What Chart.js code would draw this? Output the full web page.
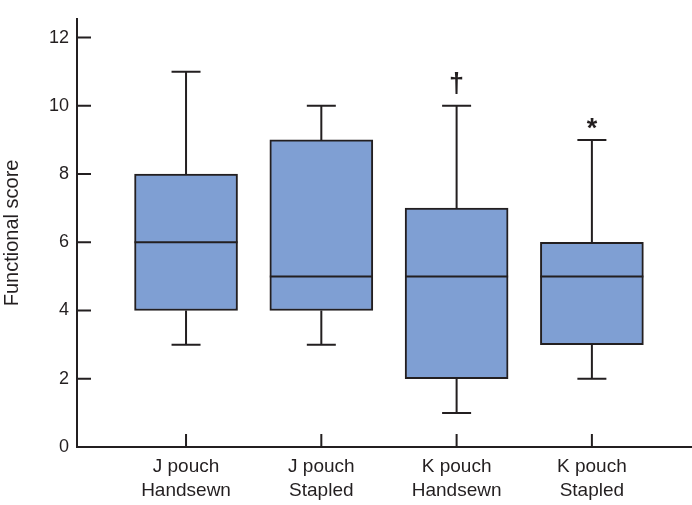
<!DOCTYPE html>
<html>
<head>
<meta charset="utf-8">
<script src="https://cdn.jsdelivr.net/npm/chart.js@4/dist/chart.umd.min.js"></script>
<style>
  html, body { margin: 0; padding: 0; background: #fff; }
  #wrap { width: 692px; height: 505px; }
</style>
</head>
<body>
<div id="wrap"><canvas id="box-chart"></canvas></div>
<script>
// box plot values
const categories = [['J pouch', 'Handsewn'], ['J pouch', 'Stapled'], ['K pouch', 'Handsewn'], ['K pouch', 'Stapled']];
const positions = [1, 2, 3, 4];
const mins    = [3, 3, 1, 2];
const q1s     = [4, 4, 2, 3];
const medians = [6, 5, 5, 5];
const q3s     = [8, 9, 7, 6];
const maxs    = [11, 10, 10, 9];
const markers = ['', '', '\u2020', '*'];
const yTicks  = [0, 2, 4, 6, 8, 10, 12];

const ink = '#231f20';
const fontFamily = '"Liberation Sans", Arial, sans-serif';

// whiskers, caps, medians, significance marks and inward tick marks
const boxPlugin = {
    id: 'boxExtras',
    afterDatasetsDraw: (chart) => {
        const ctx = chart.ctx;
        const x = chart.scales.x;
        const y = chart.scales.y;
        const meta = chart.getDatasetMeta(0);
        ctx.save();
        ctx.strokeStyle = ink;
        ctx.lineWidth = 2;
        positions.forEach((p, i) => {
            let cx = x.getPixelForValue(p);
            let w = meta.data[i].width;
            let cap = 29;
            ctx.beginPath();
            ctx.moveTo(cx, y.getPixelForValue(q3s[i]));
            ctx.lineTo(cx, y.getPixelForValue(maxs[i]));
            ctx.moveTo(cx, y.getPixelForValue(q1s[i]));
            ctx.lineTo(cx, y.getPixelForValue(mins[i]));
            ctx.moveTo(cx - cap / 2, y.getPixelForValue(maxs[i]));
            ctx.lineTo(cx + cap / 2, y.getPixelForValue(maxs[i]));
            ctx.moveTo(cx - cap / 2, y.getPixelForValue(mins[i]));
            ctx.lineTo(cx + cap / 2, y.getPixelForValue(mins[i]));
            ctx.moveTo(cx - w / 2, y.getPixelForValue(medians[i]));
            ctx.lineTo(cx + w / 2, y.getPixelForValue(medians[i]));
            ctx.stroke();
            if (markers[i]) {
                ctx.fillStyle = ink;
                ctx.font = 'bold 27px ' + fontFamily;
                ctx.textAlign = 'center';
                ctx.textBaseline = 'alphabetic';
                let m = ctx.measureText(markers[i]);
                let bottom = y.getPixelForValue(maxs[i]) - 11;
                ctx.fillText(markers[i], cx, bottom - m.actualBoundingBoxDescent);
            }
        });
        // inward tick marks
        ctx.beginPath();
        yTicks.forEach(v => {
            if (v === 0) return;
            let py = y.getPixelForValue(v);
            ctx.moveTo(x.left, py);
            ctx.lineTo(x.left + 14, py);
        });
        positions.forEach(p => {
            let px = x.getPixelForValue(p);
            ctx.moveTo(px, y.bottom);
            ctx.lineTo(px, y.bottom - 13);
        });
        ctx.stroke();
        ctx.restore();
    }
};

const initBoxChart = (canvas) => {
    return new Chart(canvas, {
        type: 'bar',
        data: {
            datasets: [{
                data: positions.map((p, i) => ({ x: p, y: [q1s[i], q3s[i]] })),
                backgroundColor: '#7f9fd3',
                borderColor: ink,
                borderWidth: 2,
                borderSkipped: false,
                barThickness: 103
            }]
        },
        options: {
            responsive: true,
            maintainAspectRatio: false,
            animation: false,
            layout: { padding: { top: 13, right: 0, left: 0, bottom: 0 } },
            plugins: {
                legend: { display: false },
                tooltip: { enabled: false }
            },
            scales: {
                x: {
                    type: 'linear',
                    offset: false,
                    min: 0.194,
                    max: 4.74,
                    grid: { display: false, drawTicks: false, offset: false },
                    border: { display: true, color: ink, width: 2 },
                    afterBuildTicks: (scale) => { scale.ticks = positions.map(v => ({ value: v })); },
                    afterFit: (scale) => { scale.height = 58; },
                    ticks: {
                        autoSkip: false,
                        maxRotation: 0,
                        padding: 8,
                        color: ink,
                        font: { family: fontFamily, size: 19, lineHeight: 1.25 },
                        callback: (v) => categories[positions.indexOf(v)] || ''
                    }
                },
                y: {
                    min: 0,
                    max: 12.55,
                    grid: { display: false, drawTicks: false },
                    border: { display: true, color: ink, width: 2 },
                    afterBuildTicks: (scale) => { scale.ticks = yTicks.map(v => ({ value: v })); },
                    afterFit: (scale) => { scale.width = 77; },
                    ticks: {
                        padding: 8,
                        color: ink,
                        font: { family: fontFamily, size: 18 }
                    },
                    title: {
                        display: true,
                        text: 'Functional score',
                        color: ink,
                        padding: { top: 0, bottom: 0 },
                        font: { family: fontFamily, size: 20 }
                    }
                }
            }
        },
        plugins: [boxPlugin]
    });
}

document.addEventListener("DOMContentLoaded", function () {
    initBoxChart(document.getElementById('box-chart'));
});
</script>
</body>
</html>
